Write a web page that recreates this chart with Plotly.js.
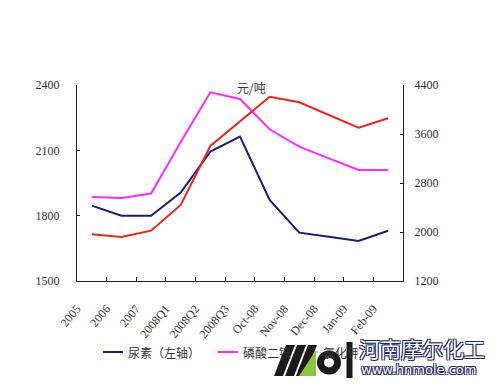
<!DOCTYPE html>
<html>
<head>
<meta charset="utf-8">
<script src="https://cdn.plot.ly/plotly-3.0.1.min.js"></script>
<style>html,body{margin:0;padding:0;background:#fff;}#chart{width:500px;height:389px;}</style>
</head>
<body>
<div id="chart"></div>
<script>
var categories = ["2005","2006","2007","2008Q1","2008Q2","2008Q3","Oct-08","Nov-08","Dec-08","Jan-09","Feb-09"];
var urea = [1846,1800,1800,1906,2094,2163,1872,1722,1703,1684,1731];
var dap = [2571,2555,2629,3470,4281,4171,3677,3393,3203,3012,3012];
var potash = [1962,1918,2022,2441,3404,3810,4209,4117,3910,3702,3856];
var seriesNames = ["尿素（左轴）","磷酸二铵","氯化钾"];
var seriesColors = ["#1c1c78","#ff2bff","#e8261c"];
var leftTicks = [1500,1800,2100,2400];
var rightTicks = [1200,2000,2800,3600,4400];

// pixel -> paper helpers for decoration
var PL=77, PR=403, PT=85, PB=281;
function px(x){return (x-PL)/(PR-PL);}
function py(y){return (PB-y)/(PB-PT);}
function poly(pts){return 'M'+pts.map(function(p){return px(p[0])+','+py(p[1]);}).join(' L')+' Z';}

var traces = [
  {x:categories,y:urea,name:seriesNames[0],type:'scatter',mode:'lines',yaxis:'y',line:{color:seriesColors[0],width:2}},
  {x:categories,y:dap,name:seriesNames[1],type:'scatter',mode:'lines',yaxis:'y2',line:{color:seriesColors[1],width:2}},
  {x:categories,y:potash,name:seriesNames[2],type:'scatter',mode:'lines',yaxis:'y2',line:{color:seriesColors[2],width:2}}
];

// custom legend (line samples + labels)
var legendX = [103,218,298];
var legendY = 352;
var shapes = [];
var annotations = [];
legendX.forEach(function(x0,i){
  shapes.push({type:'line',xref:'paper',yref:'paper',x0:px(x0),x1:px(x0+20),y0:py(legendY),y1:py(legendY),line:{color:seriesColors[i],width:2}});
  annotations.push({text:seriesNames[i],xref:'paper',yref:'paper',x:px(x0+23),y:py(legendY),xanchor:'left',yanchor:'middle',showarrow:false,
    font:{family:'"Noto Sans CJK SC",sans-serif',size:12,color:'#333'}});
});

// watermark logo
shapes.push(
  {type:'rect',xref:'paper',yref:'paper',x0:px(270),x1:px(356),y0:py(341),y1:py(379),fillcolor:'rgba(255,255,255,0.72)',line:{width:0}},
  {type:'path',xref:'paper',yref:'paper',path:poly([[274,376],[283,376],[295,345],[286,345]]),fillcolor:'#1a1a1a',line:{width:0}},
  {type:'path',xref:'paper',yref:'paper',path:poly([[285,376],[294,376],[306,345],[297,345]]),fillcolor:'#1a1a1a',line:{width:0}},
  {type:'path',xref:'paper',yref:'paper',path:poly([[296,376],[305,376],[317,345],[308,345]]),fillcolor:'#1a1a1a',line:{width:0}},
  {type:'path',xref:'paper',yref:'paper',path:poly([[299,376],[316,376],[316,350]]),fillcolor:'#8cc63f',line:{width:0}},
  {type:'circle',xref:'paper',yref:'paper',x0:px(320.5),x1:px(337.5),y0:py(354),y1:py(371),line:{color:'#1a1a1a',width:7},fillcolor:'rgba(0,0,0,0)'},
  {type:'rect',xref:'paper',yref:'paper',x0:px(346.5),x1:px(352.5),y0:py(342),y1:py(378),fillcolor:'#1a1a1a',line:{width:0}}
);
var outline = '-1px -1px 0 #1e2a66, 1px -1px 0 #1e2a66, -1px 1px 0 #1e2a66, 1px 1px 0 #1e2a66';
annotations.push(
  {text:'元/吨',xref:'paper',yref:'paper',x:px(251),y:py(87),xanchor:'center',yanchor:'middle',showarrow:false,
    font:{family:'"Noto Sans CJK SC",sans-serif',size:12,color:'#333'}},
  {text:'河南摩尔化工',xref:'paper',yref:'paper',x:px(357),y:py(348),xanchor:'left',yanchor:'middle',showarrow:false,
    font:{family:'"Noto Sans CJK SC",sans-serif',size:21,color:'#ffffff',shadow:outline},bgcolor:'rgba(255,255,255,0.85)'},
  {text:'www.hnmole.com',xref:'paper',yref:'paper',x:px(359),y:py(369),xanchor:'left',yanchor:'middle',showarrow:false,
    font:{family:'"DejaVu Sans",sans-serif',size:13,color:'#ffffff',shadow:outline}}
);

var axFont = {family:'"Liberation Serif","Times New Roman",serif',size:12,color:'#333'};
var layout = {
  width:500,height:389,
  margin:{l:PL,r:500-PR,t:PT,b:389-PB},
  paper_bgcolor:'#fff',plot_bgcolor:'#fff',
  showlegend:false,
  xaxis:{type:'category',showline:true,linecolor:'#222',linewidth:1,mirror:false,
    ticks:'inside',tickson:'boundaries',ticklen:4,tickcolor:'#222',
    tickangle:-50,tickfont:{family:'"Liberation Serif","Times New Roman",serif',size:12,color:'#333'},
    ticklabelshift:-15,ticklabelstandoff:15,
    showgrid:false,zeroline:false,range:[-0.5,10.5],fixedrange:true},
  yaxis:{range:[1500,2400],tickvals:leftTicks,ticktext:leftTicks.map(String),showline:true,linecolor:'#222',linewidth:1,
    ticks:'inside',ticklen:3,tickcolor:'#222',tickfont:axFont,showgrid:false,zeroline:false,ticklabelstandoff:14},
  yaxis2:{range:[1200,4400],tickvals:rightTicks,ticktext:rightTicks.map(String),overlaying:'y',side:'right',showline:true,linecolor:'#222',linewidth:1,
    ticks:'inside',ticklen:3,tickcolor:'#222',tickfont:axFont,showgrid:false,zeroline:false,ticklabelstandoff:8},
  annotations:annotations,
  shapes:shapes
};
Plotly.newPlot('chart',traces,layout,{displayModeBar:false,staticPlot:true});
</script>
</body>
</html>
